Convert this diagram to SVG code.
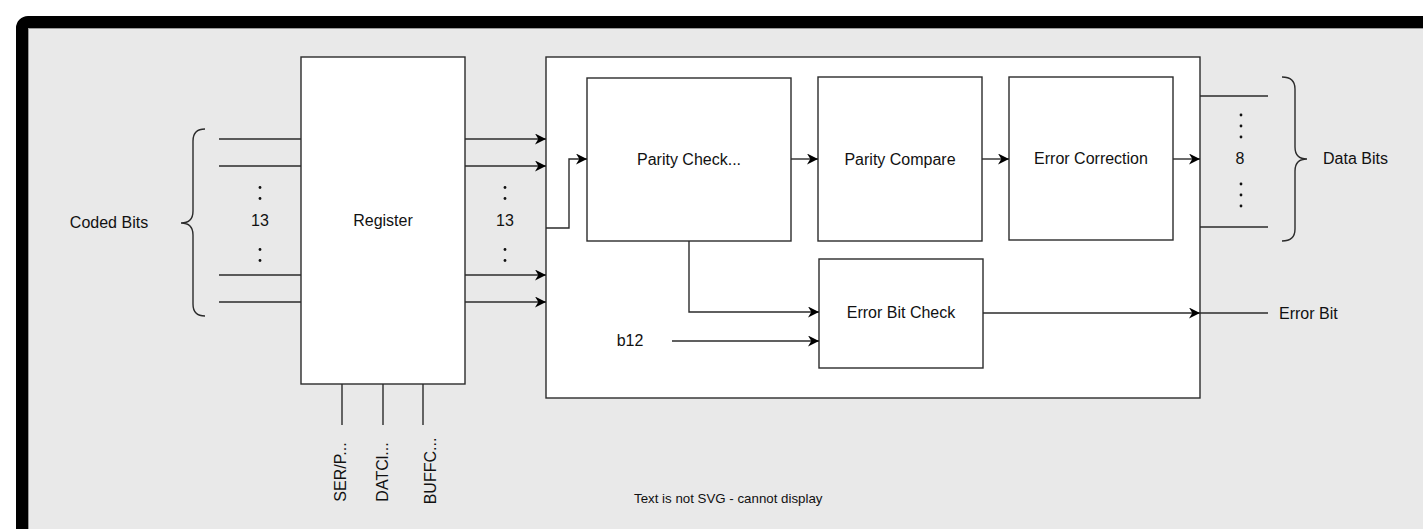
<svg xmlns="http://www.w3.org/2000/svg" width="1423" height="529" viewBox="0 0 1423 529">
<style>
.box{fill:#ffffff;stroke:#2b2b2b;stroke-width:1.4}
.ln{fill:none;stroke:#2b2b2b;stroke-width:1.4}
.t{font-family:"Liberation Sans",Arial,sans-serif;font-size:16px;fill:#111}
.c{text-anchor:middle}
.s{font-family:"Liberation Sans",Arial,sans-serif;font-size:13.3px;fill:#111}
.dot{fill:#111}
</style>
<defs>
<marker id="ah" viewBox="0 0 10 10" refX="10" refY="5" markerWidth="11" markerHeight="11" markerUnits="userSpaceOnUse" orient="auto">
<path d="M0,0 L10,5 L0,10 L3,5 z" fill="#000"/>
</marker>
</defs>
<rect x="0" y="0" width="1423" height="529" fill="#ffffff"/>
<rect x="22" y="22" width="1430" height="530" rx="6" fill="#e9e9e9" stroke="#000" stroke-width="12"/>
<rect x="28.5" y="28.5" width="1420" height="520" fill="none" stroke="#9a9a9a" stroke-width="1"/>

<g id="outer-box"><rect class="box" x="546" y="57" width="654" height="341"/></g>

<g id="register">
<rect class="box" x="301" y="57" width="164" height="327"/>
<text class="t c" x="383" y="226">Register</text>
</g>
<g id="parity-check">
<rect class="box" x="587" y="78" width="204" height="163"/>
<text class="t c" x="689" y="165">Parity Check...</text>
</g>
<g id="parity-compare">
<rect class="box" x="818" y="77" width="164" height="164"/>
<text class="t c" x="900" y="165">Parity Compare</text>
</g>
<g id="error-correction">
<rect class="box" x="1009" y="77" width="164" height="163"/>
<text class="t c" x="1091" y="164">Error Correction</text>
</g>
<g id="error-bit-check">
<rect class="box" x="819" y="259" width="164" height="109"/>
<text class="t c" x="901" y="318">Error Bit Check</text>
</g>

<g id="connectors">
<path class="ln" d="M219,139H301M219,166H301M219,275H301M219,302H301"/>
<path class="ln" d="M465,139H546" marker-end="url(#ah)"/>
<path class="ln" d="M465,166H546" marker-end="url(#ah)"/>
<path class="ln" d="M465,275H546" marker-end="url(#ah)"/>
<path class="ln" d="M465,302H546" marker-end="url(#ah)"/>
<path class="ln" d="M546,228H569V159H587" marker-end="url(#ah)"/>
<path class="ln" d="M791,159H818" marker-end="url(#ah)"/>
<path class="ln" d="M982,159H1009" marker-end="url(#ah)"/>
<path class="ln" d="M1173,159H1200" marker-end="url(#ah)"/>
<path class="ln" d="M1200,96H1268M1200,227H1268"/>
<path class="ln" d="M689,241V312H819" marker-end="url(#ah)"/>
<path class="ln" d="M672,341H819" marker-end="url(#ah)"/>
<path class="ln" d="M983,313H1200" marker-end="url(#ah)"/>
<path class="ln" d="M1200,313H1268"/>
<path class="ln" d="M342,384V425M383,384V425M423,384V425"/>
<path class="ln" d="M205,129Q193,129 193,141V211Q193,223 181,223Q193,223 193,235V304Q193,316 205,316"/>
<path class="ln" d="M1282,77Q1295,77 1295,89V147Q1295,159 1307,159Q1295,159 1295,171V229Q1295,241 1282,241"/>
</g>

<g id="dots">
<circle class="dot" cx="260" cy="187.5" r="1.4"/><circle class="dot" cx="260" cy="198.5" r="1.4"/>
<circle class="dot" cx="260" cy="249.5" r="1.4"/><circle class="dot" cx="260" cy="260.5" r="1.4"/>
<circle class="dot" cx="505" cy="187.5" r="1.4"/><circle class="dot" cx="505" cy="198.5" r="1.4"/>
<circle class="dot" cx="505" cy="249.5" r="1.4"/><circle class="dot" cx="505" cy="260.5" r="1.4"/>
<circle class="dot" cx="1241" cy="115" r="1.4"/><circle class="dot" cx="1241" cy="126" r="1.4"/><circle class="dot" cx="1241" cy="137" r="1.4"/>
<circle class="dot" cx="1241" cy="184" r="1.4"/><circle class="dot" cx="1241" cy="195" r="1.4"/><circle class="dot" cx="1241" cy="206" r="1.4"/>
</g>

<g id="labels">
<text class="t c" x="109" y="228">Coded Bits</text>
<text class="t c" x="260" y="226">13</text>
<text class="t c" x="505" y="226">13</text>
<text class="t c" x="1240" y="164">8</text>
<text class="t" x="1323" y="164">Data Bits</text>
<text class="t" x="1279" y="319">Error Bit</text>
<text class="t c" x="630" y="346">b12</text>
<text class="t c" transform="translate(346,472) rotate(-90)">SER/P...</text>
<text class="t c" transform="translate(388,472) rotate(-90)">DATCl...</text>
<text class="t c" transform="translate(436,471) rotate(-90)">BUFFC...</text>
<text class="s" x="634" y="503">Text is not SVG - cannot display</text>
</g>
</svg>
